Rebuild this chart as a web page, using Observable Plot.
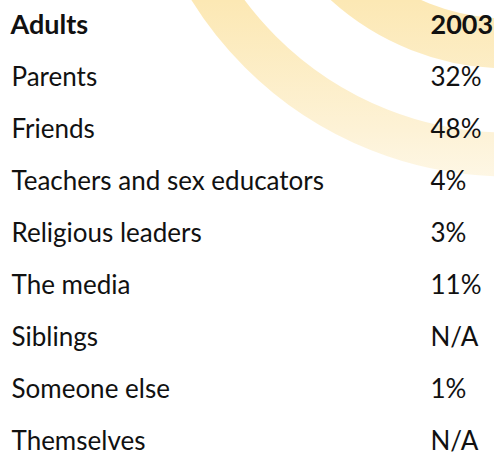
<!DOCTYPE html>
<html>
<head>
<meta charset="utf-8">
<script src="https://cdn.jsdelivr.net/npm/d3@7"></script>
<script src="https://cdn.jsdelivr.net/npm/@observablehq/plot@0.6"></script>
<style>
  html, body { margin: 0; padding: 0; background: #ffffff; }
  #chart svg { display: block; }
</style>
</head>
<body>
<div id="chart"></div>
<script>
// Column headers
const headers = ["Adults", "2003"];
// Row categories
const categories = [
  "Parents",
  "Friends",
  "Teachers and sex educators",
  "Religious leaders",
  "The media",
  "Siblings",
  "Someone else",
  "Themselves"
];
// Values for 2003
const values2003 = ["32%", "48%", "4%", "3%", "11%", "N/A", "1%", "N/A"];

const rows = categories.map((c, i) => ({category: c, value: values2003[i]}));
const headerRow = [{category: headers[0], value: headers[1]}];
const yDomain = [headers[0], ...categories];

const W = 494, H = 464;
const FONT = "Lato, 'Open Sans', sans-serif";
const CX = 14, CY = -197; // arc centre offset from the top-right corner

// background decoration: vertical fading gradient (coordinates local to the circle centre)
const defs = () => {
  const g = d3.create("svg:g");
  const lg = g.append("defs").append("linearGradient")
    .attr("id", "bandfade")
    .attr("gradientUnits", "userSpaceOnUse")
    .attr("x1", 0).attr("y1", -CY).attr("x2", 0).attr("y2", -CY + 260);
  lg.append("stop").attr("offset", "0%").attr("stop-color", "#fce8b4");
  lg.append("stop").attr("offset", "50%").attr("stop-color", "#fdf2d6");
  lg.append("stop").attr("offset", "100%").attr("stop-color", "#ffffff");
  return g.node();
};

const arc = (r, w) => Plot.dot([0], {
  frameAnchor: "top-right", dx: CX, dy: CY,
  r, fill: "none", stroke: "url(#bandfade)", strokeWidth: w
});

const chart = Plot.plot({
  width: W,
  height: H,
  margin: 0,
  style: {background: "#ffffff", fontFamily: FONT},
  y: {type: "point", domain: yDomain, range: [25, 441], padding: 0, axis: null},
  marks: [
    defs,
    arc(351, 44),
    arc(240, 50),
    Plot.text(rows, {
      y: "category", text: "category", frameAnchor: "left", dx: 11,
      textAnchor: "start", fontSize: 26, fill: "#111111", fontFamily: FONT
    }),
    Plot.text(rows, {
      y: "category", text: "value", frameAnchor: "left", dx: 430,
      textAnchor: "start", fontSize: 26, fill: "#111111", fontFamily: FONT
    }),
    Plot.text(headerRow, {
      y: "category", text: "category", frameAnchor: "left", dx: 10,
      textAnchor: "start", fontSize: 27, fontWeight: "bold", fill: "#111111",
      fontFamily: FONT, letterSpacing: 1
    }),
    Plot.text(headerRow, {
      y: "category", text: "value", frameAnchor: "left", dx: 430,
      textAnchor: "start", fontSize: 27, fontWeight: "bold", fill: "#111111", fontFamily: FONT
    })
  ]
});

document.getElementById("chart").appendChild(chart);
</script>
</body>
</html>
